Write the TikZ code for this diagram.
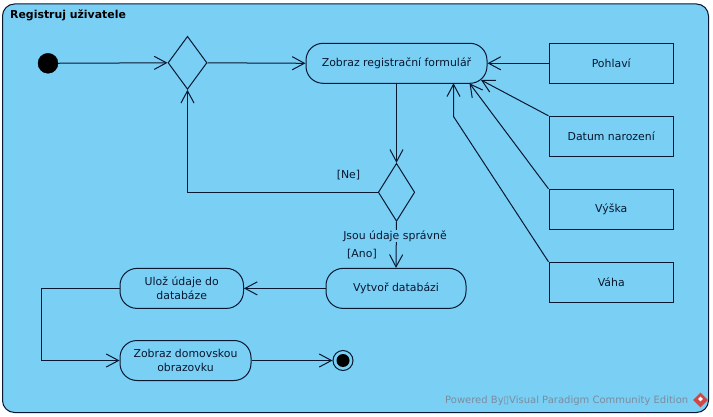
\documentclass[tikz,border=0pt]{standalone}
\usepackage{fontspec}
\setmainfont{DejaVu Sans}
\usepackage{xcolor}
\usetikzlibrary{arrows.meta,positioning,calc,shapes.geometric}
\definecolor{cFrame}{RGB}{122,207,245}
\definecolor{cLine} {RGB}{8,24,48}
\definecolor{cMark} {RGB}{124,140,158}
\definecolor{cLogo} {RGB}{206,72,72}
\tikzset{
  >={Straight Barb[length=4.3mm,width=4.6mm]},
  frame/.style={draw=cLine,fill=cFrame,line width=1pt,rounded corners=12pt},
  act/.style={draw=cLine,line width=1pt,rounded corners=17pt,align=center,inner sep=0pt,
              minimum height=40pt,font=\fontsize{10.9}{13.7}\selectfont,text=cLine},
  obj/.style={draw=cLine,line width=1pt,minimum width=124.5pt,minimum height=40pt,inner sep=0pt,
              font=\fontsize{10.9}{13.7}\selectfont,text=cLine},
  dec/.style={draw=cLine,line width=1pt,diamond,aspect=0.72,inner sep=0pt},
  start/.style={draw=black,fill=black,circle,minimum size=20pt,inner sep=0pt},
  stopout/.style={draw=cLine,line width=1pt,circle,minimum size=20pt,inner sep=0pt},
  stopin/.style={fill=black,circle,minimum size=13pt,inner sep=0pt},
  flow/.style={->,cLine,line width=1pt},
  guard/.style={font=\fontsize{10.9}{13}\selectfont,text=cLine,inner sep=1pt},
}
\begin{document}
\begin{tikzpicture}[x=1pt,y=-1pt]
  \useasboundingbox (0,0) rectangle (713,417);
  \node[frame,minimum width=706pt,minimum height=408.5pt,anchor=north west] (frm) at (2,3.5) {};
  \node[anchor=west,inner sep=0pt,font=\fontsize{10.9}{13}\selectfont\bfseries,text=black] (title) at (10,15) {Registruj uživatele};
  % nodes
  \node[start] (init) at (48,63.3) {};
  \node[dec,minimum width=39pt,minimum height=53pt] (d1) at (187.5,62.8) {};
  \node[act,minimum width=181pt] (form) at (396.5,63.3) {Zobraz registrační formulář};
  \node[dec,minimum width=36.5pt,minimum height=58pt] (d2) at (396.5,192.3) {};
  \node[act,minimum width=140pt] (db) at (396,288.4) {Vytvoř databázi};
  \node[act,minimum width=123.5pt] (save) at (181.75,288.4) {Ulož údaje do\\databáze};
  \node[act,minimum width=131pt] (home) at (185.5,360.5) {Zobraz domovskou\\obrazovku};
  \node[stopout] (fin) at (343,360.5) {};
  \node[stopin] (finin) at (343,360.5) {};
  \node[obj] (pohl) at (611.25,63.3) {Pohlaví};
  \node[obj] (datum) at (611.25,136.3) {Datum narození};
  \node[obj] (vyska) at (611.25,209.3) {Výška};
  \node[obj] (vaha) at (611.25,282.3) {Váha};
  % free ends
  \coordinate (inDatum) at (481,80);
  \coordinate (inVyska) at (469.5,83.3);
  \coordinate (inVaha) at (453.5,83.3);
  \coordinate (bendVaha) at (453.5,116.5);
  \coordinate (bendNe) at (187.5,192.3);
  \coordinate (bendA) at (41,288.4);
  \coordinate (bendB) at (41,360.5);
  % flows
  \draw[flow] (init) -- (d1.west);
  \draw[flow] (d1.east) -- (form.west);
  \draw[flow] (form.south) -- (d2.north);
  \draw[flow] (d2.west) -- (bendNe) -- (d1.south);
  \draw[flow] (d2.south) -- (db.north);
  \draw[flow] (db.west) -- (save.east);
  \draw[flow] (save.west) -- (bendA) -- (bendB) -- (home.west);
  \draw[flow] (home.east) -- (fin.west);
  \draw[flow] (pohl.west) -- (form.east);
  \draw[flow] (datum.north west) -- (inDatum);
  \draw[flow] (vyska.north west) -- (inVyska);
  \draw[flow] (vaha.north west) -- (bendVaha) -- (inVaha);
  % guards
  \node[guard,fill=cFrame] (cond) at (395,236) {Jsou údaje správně};
  \node[guard] (ano) at (362,254.5) {[Ano]};
  \node[guard] (ne) at (348.5,175) {[Ne]};
  % watermark
  \node[anchor=west,inner sep=0pt,font=\fontsize{10}{12}\selectfont,text=cMark] (mark) at (445,400.5) {Powered By▯Visual Paradigm Community Edition};
  \node[diamond,fill=cLogo,minimum size=15pt,inner sep=0pt] (logo) at (700.5,400) {};
  \node[diamond,fill=white,minimum size=5pt,inner sep=0pt] (logoin) at (700.5,399) {};
\end{tikzpicture}
\end{document}
